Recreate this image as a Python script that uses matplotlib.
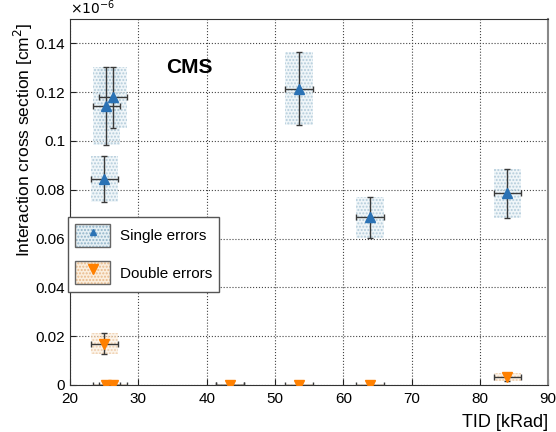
import matplotlib.pyplot as plt
from matplotlib.patches import Rectangle
from matplotlib.lines import Line2D
from matplotlib.legend_handler import HandlerTuple

plt.rcParams['font.family'] = ['Liberation Sans', 'DejaVu Sans']

# TID values [kRad] and their uncertainties
tid = [25.3, 26.3, 25.0, 43.4, 53.5, 63.9, 84.0]
tid_err = [2.0, 2.0, 2.0, 2.0, 2.0, 2.0, 2.0]

# cross sections in units of 1e-6 cm^2
single = [0.1144, 0.1180, 0.0844, 0.0, 0.1214, 0.0687, 0.0786]
single_err = [0.0160, 0.0125, 0.0095, 0.0, 0.0150, 0.0085, 0.0100]
double = [0.0, 0.0, 0.0169, 0.0, 0.0, 0.0, 0.0033]
double_err = [0.0, 0.0, 0.0042, 0.0, 0.0, 0.0, 0.0015]

blue = '#2a72b5'
orange = '#ff8000'

fig = plt.figure(figsize=(5.56, 4.32), dpi=100)
ax = fig.add_axes([0.126, 0.109, 0.86, 0.847])

def draw_series(y, yerr, color, face, hatch_col, marker):
    for xi, xe, yi, ye in zip(tid, tid_err, y, yerr):
        h = max(2 * ye, 0.001)
        r = Rectangle((xi - xe, yi - h / 2), 2 * xe, h, facecolor=face,
                      edgecolor=hatch_col, hatch='.....', linewidth=0, alpha=0.6, zorder=2)
        ax.add_patch(r)
    ax.errorbar(tid, y, xerr=tid_err, yerr=yerr, fmt='none', ecolor='#3a3a3a',
                elinewidth=1.0, capsize=2.5, capthick=1.0, zorder=3)
    ax.plot(tid, y, linestyle='none', marker=marker, color=color,
            markersize=7, zorder=4)

draw_series(single, single_err, blue, '#e6f0f5', '#8fb3c8', '^')
draw_series(double, double_err, orange, '#fbeedd', '#e8b98a', 'v')

ax.set_xlim(20, 90)
ax.set_ylim(0, 0.15)
ax.set_xticks(range(20, 91, 10))
ax.set_yticks([0, 0.02, 0.04, 0.06, 0.08, 0.1, 0.12, 0.14])
ax.set_yticklabels(['0', '0.02', '0.04', '0.06', '0.08', '0.1', '0.12', '0.14'])
ax.tick_params(direction='in', labelsize=11, length=4, color='#222222')
ax.tick_params(axis='x', pad=5)
ax.grid(True, linestyle=':', color='#444444', linewidth=0.8)
for s in ax.spines.values():
    s.set_color('#333333')
ax.spines['right'].set_color('#888888')
ax.spines['right'].set_linewidth(1.5)

ax.set_ylabel('Interaction cross section [cm$^2$]', fontsize=12.5)
ax.yaxis.set_label_coords(-0.073, 0.67)
ax.set_xlabel('TID [kRad]', fontsize=13)
ax.xaxis.set_label_coords(1.0, -0.08)
ax.xaxis.label.set_horizontalalignment('right')
ax.text(0.0, 1.005, r'$\times10^{-6}$', transform=ax.transAxes, fontsize=10,
        va='bottom', ha='left')
ax.text(34, 0.128, 'CMS', fontsize=15, fontweight='bold')

def leg_handle(face, hcol, marker, color, ms):
    fill = Rectangle((0, 0), 1, 1, facecolor=face, edgecolor=hcol, hatch='.....', linewidth=0)
    frame = Rectangle((0, 0), 1, 1, facecolor='none', edgecolor='#666666', linewidth=1.0)
    mk = Line2D([], [], linestyle='none', marker=marker, color=color, markersize=ms)
    return (fill, frame, mk)

h1 = leg_handle('#e6f0f5', '#8fb3c8', '^', blue, 5)
h2 = leg_handle('#fbeedd', '#e8b98a', 'v', orange, 7)
leg = ax.legend([h1, h2], ['Single errors', 'Double errors'],
                handler_map={tuple: HandlerTuple(ndivide=1)},
                loc='lower left', bbox_to_anchor=(-0.005, 0.255), fontsize=11,
                handlelength=2.3, handleheight=1.9, labelspacing=0.95,
                handletextpad=0.6, borderaxespad=0,
                fancybox=False, edgecolor='#555555', framealpha=1, borderpad=0.5)

fig.savefig('out.png', dpi=100)
